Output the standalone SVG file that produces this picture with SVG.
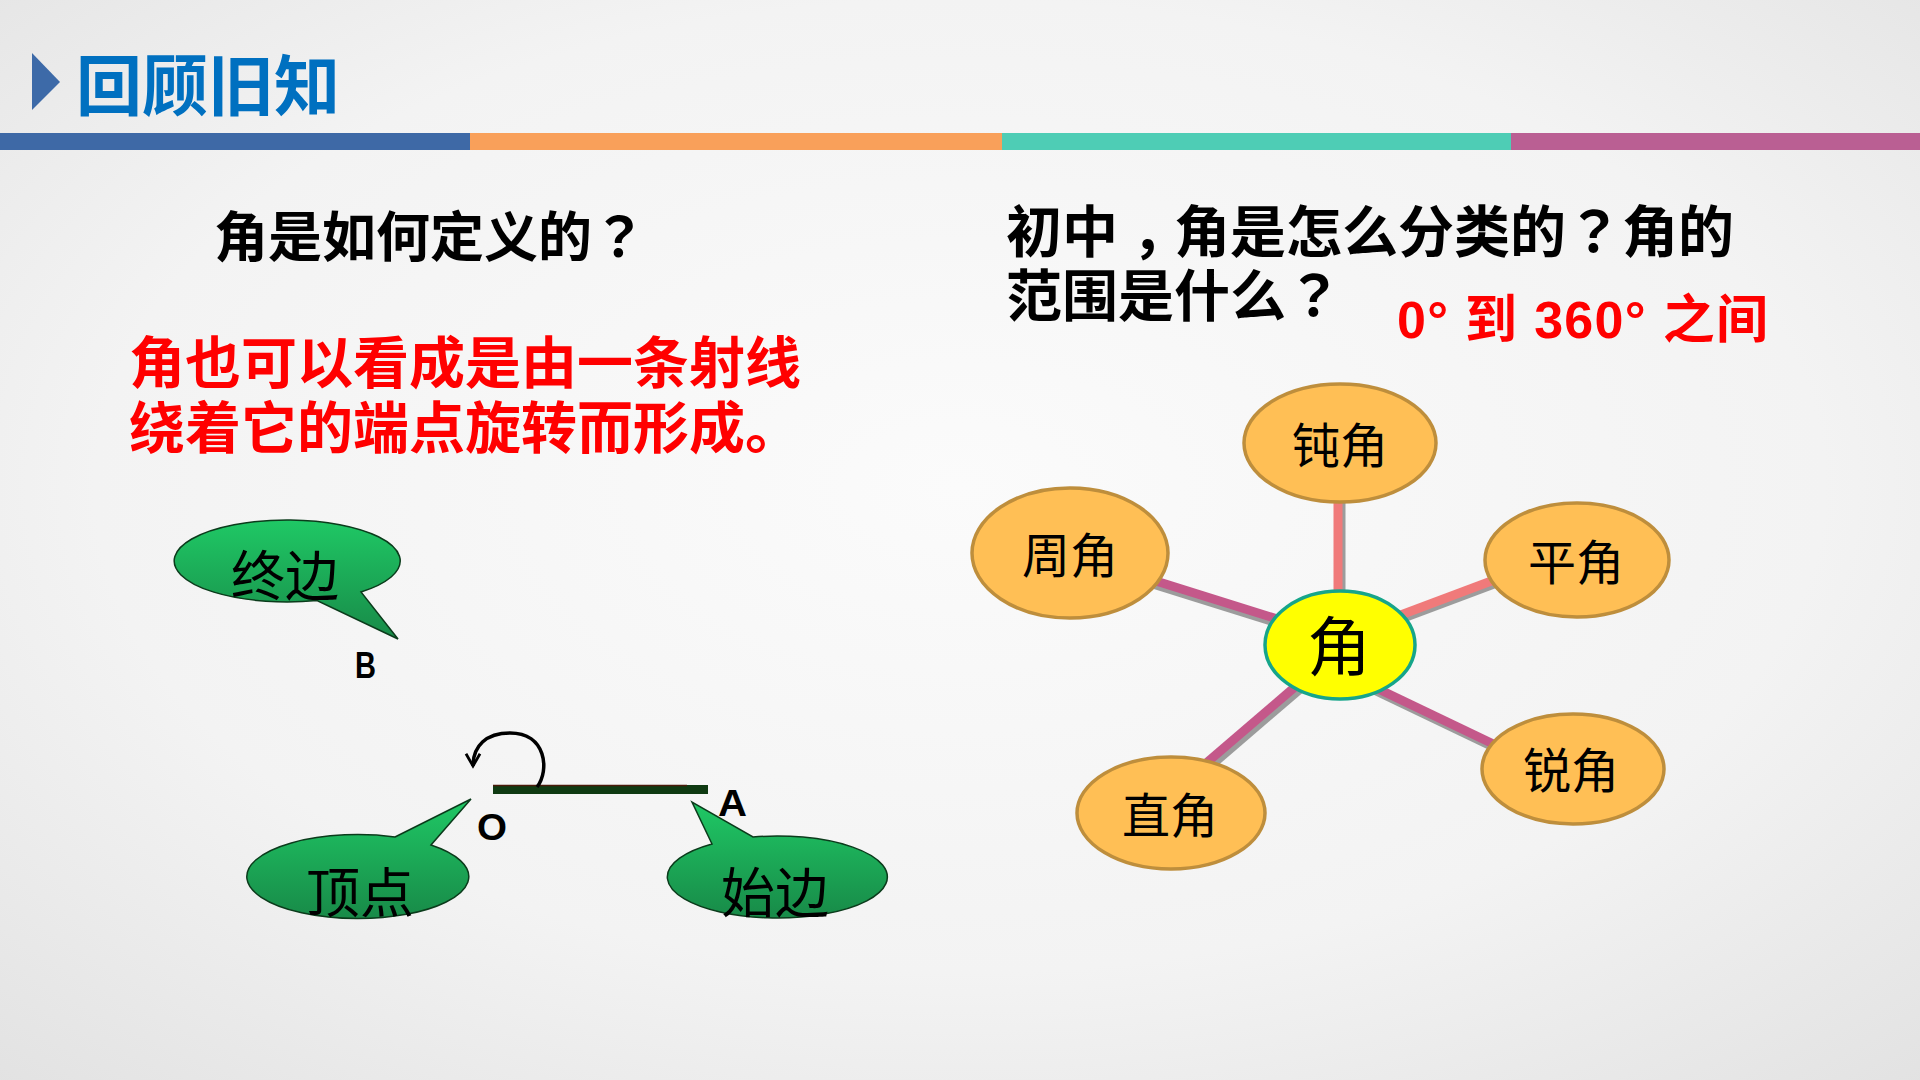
<svg xmlns="http://www.w3.org/2000/svg" width="1920" height="1080" viewBox="0 0 1920 1080">
<defs>
<radialGradient id="bg" cx="50%" cy="45%" r="75%">
<stop offset="0" stop-color="#FBFBFB"/>
<stop offset="0.6" stop-color="#F3F3F3"/>
<stop offset="1" stop-color="#E2E2E2"/>
</radialGradient>
<linearGradient id="green" x1="0" y1="0" x2="0" y2="1">
<stop offset="0" stop-color="#1FC865"/>
<stop offset="1" stop-color="#188A48"/>
</linearGradient>
<marker id="arr" viewBox="0 0 10 10" refX="8" refY="5" markerWidth="5" markerHeight="5" orient="auto" markerUnits="strokeWidth">
<path d="M1 1 L8 5 L1 9" fill="none" stroke="#000" stroke-width="1.6"/>
</marker>
<style>
.cjk{font-family:"Noto Sans CJK SC","Liberation Sans",sans-serif;}
.tc{font-family:"Noto Sans CJK TC","Noto Sans CJK SC",sans-serif;}
.lat{font-family:"Liberation Sans","Noto Sans CJK SC",sans-serif;}
.q{font-size:54px;font-weight:700;fill:#000;}
.q56{font-size:56px;font-weight:700;fill:#000;}
.red{font-size:56px;font-weight:700;fill:#FF0000;}
.bub{fill:url(#green);stroke:#0B3B1B;stroke-width:1.5;}
.bubt{font-size:54px;fill:#000;text-anchor:middle;}
.lbl{font-size:37px;font-weight:700;fill:#000;}
.cat{fill:#FFBF55;stroke:#BE8E3C;stroke-width:3.5;}
.catt{font-size:48px;fill:#000;text-anchor:middle;}
.shadow{stroke:#9C9C9C;stroke-width:9;stroke-linecap:butt;}
.c1{stroke:#F07A7A;stroke-width:9;}
.c2{stroke:#C4588A;stroke-width:9;}
</style>
</defs>
<rect x="0" y="0" width="1920" height="1080" fill="url(#bg)"/>

<g id="header">
<polygon points="32,53 60,82 32,110" fill="#3D6AA8"/>
<text x="76" y="110" class="cjk" font-size="66" font-weight="700" fill="#0070C0">回顾旧知</text>
<rect x="0" y="133" width="470" height="17" fill="#3E69A6"/>
<rect x="470" y="133" width="532" height="17" fill="#F9A05A"/>
<rect x="1002" y="133" width="509" height="17" fill="#4ECDB5"/>
<rect x="1511" y="133" width="409" height="17" fill="#BA5F93"/>
</g>

<g id="question-left">
<text x="214" y="257" class="cjk q">角是如何定义的<tspan class="tc">？</tspan></text>
</g>
<g id="definition">
<text x="129" y="383" class="cjk red">角也可以看成是由一条射线</text>
<text x="129" y="448" class="cjk red">绕着它的端点旋转而形成。</text>
</g>
<g id="question-right">
<text x="1006" y="252" class="cjk q56">初中<tspan dx="14">，</tspan><tspan dx="-14">角是怎么分类的</tspan><tspan class="tc">？</tspan>角的</text>
<text x="1006" y="316" class="cjk q56">范围是什么<tspan class="tc">？</tspan></text>
</g>
<g id="answer-range">
<text x="1397" y="338" class="lat" font-size="52" font-weight="700" fill="#FF0000" textLength="371" lengthAdjust="spacing">0° 到 360° 之间</text>
</g>

<g id="ray">
<rect x="493" y="785" width="215" height="9" fill="#0F3A12"/>
<line x1="493" y1="785.5" x2="687" y2="785.5" stroke="#4A1A0A" stroke-width="1.5"/>
<path d="M 537 787 C 550 770 546 733 510 733 C 486 733 473 746 473 766" fill="none" stroke="#000" stroke-width="3.5" marker-end="url(#arr)"/>
<text x="355" y="678" class="lat lbl" textLength="21" lengthAdjust="spacingAndGlyphs">B</text>
<text x="477" y="840" class="lat lbl" textLength="30" lengthAdjust="spacingAndGlyphs">O</text>
<text x="718" y="816" class="lat lbl" textLength="29" lengthAdjust="spacingAndGlyphs">A</text>
</g>

<g id="bubble-terminal">
<path class="bub" d="M 361 592 A 113 41 0 1 0 317 600.5 L 398 639 Z"/>
<text x="285" y="596" class="cjk bubt">终边</text>
</g>
<g id="bubble-vertex">
<path class="bub" d="M 395 837 L 471 799 L 431 845 A 111 42 0 1 1 395 837 Z"/>
<text x="360" y="913" class="cjk bubt">顶点</text>
</g>
<g id="bubble-initial">
<path class="bub" d="M 712 844 L 692 802 L 753 837 A 110 41 0 1 1 712 844 Z"/>
<text x="775" y="913" class="cjk bubt">始边</text>
</g>

<g id="connectors">
<line class="shadow" x1="1341" y1="498" x2="1341" y2="598"/>
<line class="shadow" x1="1140" y1="580" x2="1290" y2="627"/>
<line class="shadow" x1="1510" y1="578" x2="1390" y2="623"/>
<line class="shadow" x1="1372" y1="689" x2="1512" y2="756"/>
<line class="shadow" x1="1313" y1="678" x2="1193" y2="781"/>
<line class="c1" x1="1338" y1="495" x2="1338" y2="595"/>
<line class="c2" x1="1140" y1="576" x2="1290" y2="623"/>
<line class="c1" x1="1510" y1="574" x2="1390" y2="619"/>
<line class="c2" x1="1370" y1="685" x2="1510" y2="752"/>
<line class="c2" x1="1310" y1="674" x2="1190" y2="777"/>
</g>

<g id="node-center">
<ellipse cx="1340" cy="645" rx="75" ry="54" fill="#FFFF00" stroke="#16A58A" stroke-width="3.5"/>
<text x="1339" y="670" class="cjk" font-size="64" fill="#000" text-anchor="middle">角</text>
</g>
<g id="node-obtuse">
<ellipse class="cat" cx="1340" cy="443" rx="96" ry="59"/>
<text x="1340" y="463" class="cjk catt">钝角</text>
</g>
<g id="node-full">
<ellipse class="cat" cx="1070" cy="553" rx="98" ry="65"/>
<text x="1070" y="573" class="cjk catt">周角</text>
</g>
<g id="node-straight">
<ellipse class="cat" cx="1577" cy="560" rx="92" ry="57"/>
<text x="1576" y="580" class="cjk catt">平角</text>
</g>
<g id="node-acute">
<ellipse class="cat" cx="1573" cy="769" rx="91" ry="55"/>
<text x="1571" y="788" class="cjk catt">锐角</text>
</g>
<g id="node-right">
<ellipse class="cat" cx="1171" cy="813" rx="94" ry="56"/>
<text x="1170" y="833" class="cjk catt">直角</text>
</g>
</svg>
